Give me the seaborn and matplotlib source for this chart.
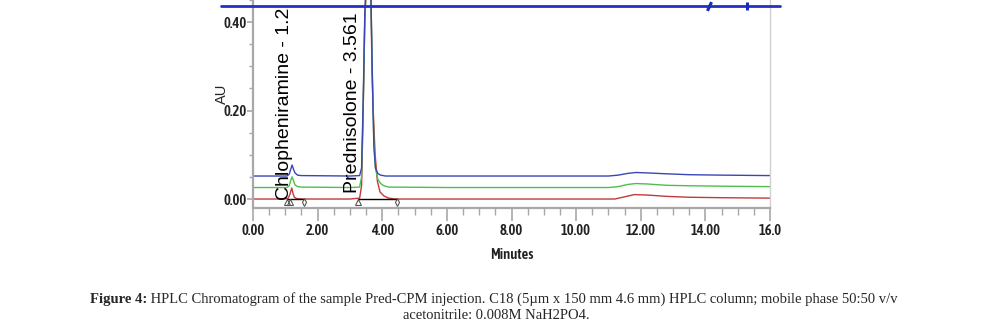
import numpy as np
import pandas as pd
import seaborn as sns
import matplotlib
matplotlib.use("Agg")
import matplotlib.pyplot as plt
from matplotlib import font_manager
from matplotlib.font_manager import FontProperties

# ---------------- data ----------------
red_t = [0.00, 0.90, 1.08, 1.14, 1.20, 1.24, 1.28, 1.35, 1.50, 3.00, 3.30, 3.36, 3.41, 3.46,
         3.52, 3.58, 3.65, 3.68, 3.72, 3.78, 3.85, 3.93, 4.05, 4.20, 4.40, 8.00, 11.20, 11.50,
         11.80, 12.20, 12.80, 13.50, 14.50, 16.00]
red_v = [0.000, 0.000, 0.001, 0.010, 0.025, 0.012, 0.004, 0.001, 0.000, 0.000, 0.002, 0.030,
         0.200, 0.400, 0.500, 0.600, 0.450, 0.300, 0.200, 0.100, 0.040, 0.016, 0.007, 0.002,
         0.000, 0.000, 0.000, 0.005, 0.010, 0.009, 0.006, 0.004, 0.003, 0.002]

green_t = [0.00, 1.05, 1.12, 1.17, 1.21, 1.25, 1.30, 1.38, 1.50, 3.00, 3.30, 3.36, 3.41, 3.46,
           3.52, 3.58, 3.65, 3.70, 3.74, 3.79, 3.86, 3.95, 4.05, 4.20, 6.00, 11.00, 11.30,
           11.60, 11.85, 12.20, 12.80, 13.50, 14.50, 16.00]
green_v = [0.026, 0.026, 0.030, 0.043, 0.050, 0.042, 0.032, 0.028, 0.027, 0.026, 0.027, 0.050,
           0.210, 0.410, 0.510, 0.610, 0.455, 0.260, 0.130, 0.070, 0.045, 0.035, 0.030, 0.027,
           0.026, 0.026, 0.028, 0.033, 0.035, 0.034, 0.031, 0.030, 0.029, 0.028]

blue_t = [0.00, 1.05, 1.12, 1.17, 1.21, 1.25, 1.30, 1.38, 1.50, 3.00, 3.30, 3.36, 3.41, 3.46,
          3.52, 3.58, 3.65, 3.70, 3.74, 3.79, 3.86, 3.95, 4.10, 6.00, 11.00, 11.30, 11.60,
          11.85, 12.20, 12.80, 13.50, 14.50, 16.00]
blue_v = [0.052, 0.052, 0.056, 0.068, 0.077, 0.068, 0.059, 0.054, 0.053, 0.052, 0.053, 0.070,
          0.220, 0.420, 0.520, 0.620, 0.460, 0.250, 0.120, 0.070, 0.058, 0.054, 0.052, 0.052,
          0.052, 0.054, 0.058, 0.060, 0.059, 0.057, 0.055, 0.054, 0.053]

# scale/reference line at top of the window and its event marks
top_t = [-1.0, 16.3]
top_v = [0.437, 0.437]
event_t = [14.1, 15.3]

# integration baselines and markers
base_t = [[1.05, 1.58], [3.25, 4.46]]
start_marks = [1.05, 1.15, 3.25]
end_marks = [1.58, 4.46]

peak_names = ["Chlopheniramine - 1.2", "Prednisolone - 3.561"]
peak_label_t = [0.96, 3.07]
peak_label_y = [-0.002, 0.013]

xticks_major = [0, 2, 4, 6, 8, 10, 12, 14, 16]
xtick_labels = ["0.00", "2.00", "4.00", "6.00", "8.00", "10.00", "12.00", "14.00", "16.0"]
yticks_major = [0.0, 0.2, 0.4]
ytick_labels = ["0.00", "0.20", "0.40"]

caption_bold = "Figure 4:"
caption_rest = " HPLC Chromatogram of the sample Pred-CPM injection. C18 (5\u00b5m x 150 mm 4.6 mm) HPLC column; mobile phase 50:50 v/v"
caption_line2 = "acetonitrile: 0.008M NaH2PO4."

# ---------------- style ----------------
sns.set_style("white")
plt.rcParams["font.family"] = ["Liberation Sans", "DejaVu Sans"]


def _wnum(w):
    if isinstance(w, (int, float)):
        return int(w)
    return int(font_manager.weight_dict.get(str(w).lower(), 400))


# look for condensed / narrow sans faces for the axis texts
cands = []
for f in font_manager.fontManager.ttflist:
    nm = f.name.lower()
    st = str(f.stretch).lower()
    if ("narrow" in nm or "condensed" in nm or "condensed" in st or "narrow" in st) \
            and f.style == "normal" and "mono" not in nm and "serif" not in nm:
        cands.append((abs(_wnum(f.weight) - 500), f.fname, _wnum(f.weight)))
cands.sort()
bold_c = sorted([c for c in cands if c[2] >= 500], key=lambda c: abs(c[2] - 600))
boldish_fp = bold_c[0][1] if bold_c else (cands[0][1] if cands else None)

if boldish_fp is not None:
    tick_fp = FontProperties(fname=boldish_fp, size=10.5)
    lab_fp = FontProperties(fname=boldish_fp, size=10.5)
else:
    tick_fp = FontProperties(family="Liberation Sans", size=9)
    lab_fp = FontProperties(family="Liberation Sans", size=9.5)

W, H = 983, 329
fig = plt.figure(figsize=(W / 100, H / 100), dpi=100)
ax = fig.add_axes([253 / W, 1 - 208 / H, 517 / W, 208 / H])

RED = "#c23a3a"
GREEN = "#4cc04c"
BLUE = "#3a46b4"

for t, v, c in [(red_t, red_v, RED), (green_t, green_v, GREEN), (blue_t, blue_v, BLUE)]:
    df = pd.DataFrame({"t": t, "v": v})
    sns.lineplot(data=df, x="t", y="v", ax=ax, color=c, lw=1.0, estimator=None, sort=False)

# integration baselines
for seg in base_t:
    sns.lineplot(x=seg, y=[0.0, 0.0], ax=ax, color="black", lw=1.0, estimator=None)
ax.plot(start_marks, [-0.006] * len(start_marks), ls="none", marker="^", ms=4,
        mfc="none", mec="#555555", mew=0.8)
ax.plot(end_marks, [-0.006] * len(end_marks), ls="none", marker="d", ms=4,
        mfc="none", mec="#555555", mew=0.8)

# top blue line (extends past the frame)
ax.plot(top_t, top_v, color="#2431c4", lw=2.0, clip_on=False, zorder=5)
ax.plot(event_t[0], top_v[0], marker=(2, 0, -25), ms=7, mec="#1a28c0", mew=2.2,
        clip_on=False, zorder=6)
ax.plot(event_t[1], top_v[0], marker="|", ms=6, mec="#1a28c0", mew=2.2,
        clip_on=False, zorder=6)

# peak labels
for name, tx, ty in zip(peak_names, peak_label_t, peak_label_y):
    ax.text(tx, ty, name, rotation=90, ha="center", va="bottom", fontsize=14,
            color="black", clip_on=False, zorder=7)

# axes
ax.set_xlim(0, 16)
ax.set_ylim(-0.0203, 0.4497)
ax.set_xticks(xticks_major)
ax.set_xticklabels(xtick_labels)
ax.set_xticks(np.arange(0, 16.01, 0.5), minor=True)
ax.set_yticks(yticks_major)
ax.set_yticklabels(ytick_labels)
ax.set_yticks(np.arange(0, 0.451, 0.05), minor=True)

for lab in ax.get_xticklabels() + ax.get_yticklabels():
    lab.set_fontproperties(tick_fp)
    lab.set_color("#222222")

SPC = "#a8a8a8"
ax.spines["top"].set_visible(False)
ax.spines["right"].set_color("#d0d0d0")
ax.spines["right"].set_linewidth(1.0)
for s in ["left", "bottom"]:
    ax.spines[s].set_color(SPC)
    ax.spines[s].set_linewidth(1.6)
ax.tick_params(axis="x", which="major", length=9, width=1.2, color=SPC, pad=2.5, bottom=True)
ax.tick_params(axis="x", which="minor", length=5, width=1.0, color=SPC, bottom=True)
ax.tick_params(axis="y", which="major", length=4, width=1.2, color=SPC, pad=0.5, left=True)
ax.tick_params(axis="y", which="minor", length=3, width=1.0, color=SPC, left=True)

ax.set_xlabel("Minutes", fontproperties=lab_fp, labelpad=7, color="#222222")
ax.set_ylabel("AU", fontsize=10.5)
ax.yaxis.set_label_coords(-0.046, 0.55)

# caption
renderer = fig.canvas.get_renderer()
fs_cap = 10.5
tb = fig.text(0, 0.09, caption_bold, family="Liberation Serif", weight="bold",
              fontsize=fs_cap, va="center", ha="left")
tr = fig.text(0, 0.09, caption_rest, family="Liberation Serif", fontsize=fs_cap,
              va="center", ha="left")
wb = tb.get_window_extent(renderer).width
wr = tr.get_window_extent(renderer).width
x0 = 494 - (wb + wr) / 2
tb.set_x(x0 / W)
tr.set_x((x0 + wb) / W)
fig.text(496 / W, 0.040, caption_line2, family="Liberation Serif", fontsize=fs_cap,
         va="center", ha="center")

fig.savefig("out.png", dpi=100)
